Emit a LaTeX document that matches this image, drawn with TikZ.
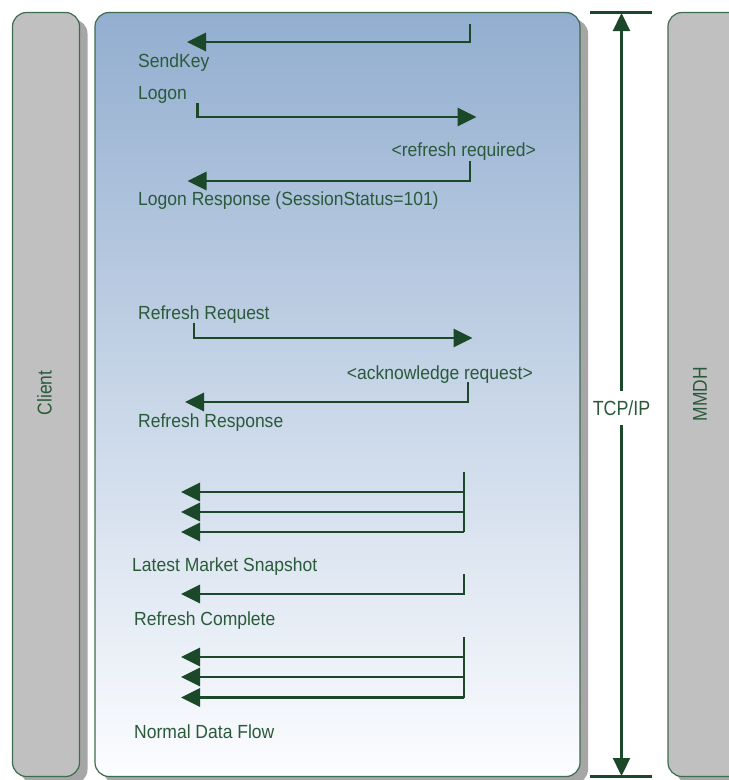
\documentclass[tikz,border=0pt]{standalone}
\usepackage{fontspec}
\setmainfont{Liberation Sans}[FakeStretch=0.922]
\newfontfamily\sidefont{Liberation Sans}[FakeStretch=0.87]
\usetikzlibrary{arrows.meta,shadows}
\definecolor{txtgreen}{RGB}{42,90,58}
\definecolor{arrgreen}{RGB}{26,72,40}
\definecolor{edgegreen}{RGB}{62,108,78}
\definecolor{boxgray}{RGB}{192,192,192}
\definecolor{shadowgray}{RGB}{166,166,166}
\definecolor{topblue}{RGB}{147,174,208}
\definecolor{botwhite}{RGB}{252,253,255}
\begin{document}
\begin{tikzpicture}[x=1pt,y=-1pt,
  lbl/.style={font=\fontsize{19}{22}\selectfont, text=txtgreen, inner sep=0pt},
  side/.style={font=\sidefont\fontsize{20}{22}\selectfont, text=txtgreen, inner sep=0pt},
  msg/.style={draw=arrgreen, line width=2.9pt, -{Triangle[length=19pt,width=18pt]}},
  bar/.style={draw=arrgreen, line width=2.9pt},
  tcparrow/.style={draw=arrgreen, line width=2.3pt, -{Triangle[length=18pt,width=17pt]}},
  capline/.style={draw=arrgreen, line width=2.3pt},
  panel/.style={rounded corners=14pt, draw=edgegreen, line width=1.2pt, inner sep=0pt,
    drop shadow={shadow xshift=8pt, shadow yshift=-7pt, fill=shadowgray, opacity=1}},
]
\useasboundingbox (0,0) rectangle (729,780);
\clip (0,0) rectangle (729,780);
\fill[white] (0,0) rectangle (729,780);

% panels
\node[panel, fill=boxgray, minimum width=67pt, minimum height=764pt] (clientbox) at (46,394.5) {};
\node[panel, top color=topblue, bottom color=botwhite, minimum width=485pt, minimum height=764pt] (mainbox) at (337.5,394.5) {};
\node[panel, fill=boxgray, minimum width=82pt, minimum height=764pt] (mmdhbox) at (709,394.5) {};
\node[side, rotate=90] (client) at (44.5,393) {Client};
\node[side, rotate=90] (mmdh) at (700,394) {MMDH};

% TCP/IP
\coordinate (capTL) at (589.5,12.5);
\coordinate (capTR) at (652,12.5);
\coordinate (capBL) at (589.5,776.5);
\coordinate (capBR) at (652,776.5);
\coordinate (tcptop) at (621.5,13);
\coordinate (tcpbot) at (621.5,776);
\draw[capline] (capTL) -- (capTR);
\draw[capline] (capBL) -- (capBR);
\node[side, font=\sidefont\fontsize{20.5}{22}\selectfont, fill=white, minimum height=34pt] (tcp) at (621.5,408) {TCP/IP};
\draw[tcparrow] (tcp.north) -- (tcptop);
\draw[tcparrow] (tcp.south) -- (tcpbot);

% labels
\node[lbl, anchor=base west] (sendkey) at (138,67) {SendKey};
\node[lbl, anchor=base west] (logon) at (138,99) {Logon};
\node[lbl, anchor=base east] (refreq) at (536,156.5) {<refresh required>};
\node[lbl, anchor=base west] (logonresp) at (138,205) {Logon Response (SessionStatus=101)};
\node[lbl, anchor=base west] (rrequest) at (138,319) {Refresh Request};
\node[lbl, anchor=base east] (ack) at (533,379) {<acknowledge request>};
\node[lbl, anchor=base west] (rresponse) at (138,427) {Refresh Response};
\node[lbl, anchor=base west] (snapshot) at (132,571) {Latest Market Snapshot};
\node[lbl, anchor=base west] (rcomplete) at (134,625.5) {Refresh Complete};
\node[lbl, anchor=base west] (normal) at (134,738) {Normal Data Flow};

% message 1: SendKey
\coordinate (m1s) at (470,24);
\coordinate (m1c) at (470,42);
\coordinate (m1e) at (187,42);
\draw[msg] (m1s) -- (m1c) -- (m1e);
% message 2: Logon
\coordinate (m2s) at (197.5,103);
\coordinate (m2c) at (197.5,117);
\coordinate (m2e) at (476.5,117);
\draw[msg] (m2s) -- (m2c) -- (m2e);
% message 3: Logon Response
\coordinate (m3s) at (470,161);
\coordinate (m3c) at (470,181);
\coordinate (m3e) at (187.5,181);
\draw[msg] (m3s) -- (m3c) -- (m3e);
% message 4: Refresh Request
\coordinate (m4s) at (194,323);
\coordinate (m4c) at (194,338);
\coordinate (m4e) at (472.5,338);
\draw[msg] (m4s) -- (m4c) -- (m4e);
% message 5: Refresh Response
\coordinate (m5s) at (468,382);
\coordinate (m5c) at (468,402);
\coordinate (m5e) at (185,402);
\draw[msg] (m5s) -- (m5c) -- (m5e);
% message 6: snapshot (three)
\coordinate (m6s) at (464,472);
\coordinate (m6a) at (464,492);
\coordinate (m6b) at (464,512);
\coordinate (m6c) at (464,532);
\coordinate (m6ae) at (181,492);
\coordinate (m6be) at (181,512);
\coordinate (m6ce) at (181,532);
\draw[bar] (m6s) -- (m6c);
\draw[msg] (m6a) -- (m6ae);
\draw[msg] (m6b) -- (m6be);
\draw[msg] (m6c) -- (m6ce);
% message 7: Refresh Complete
\coordinate (m7s) at (464,574);
\coordinate (m7c) at (464,594);
\coordinate (m7e) at (181,594);
\draw[msg] (m7s) -- (m7c) -- (m7e);
% message 8: normal data flow (three)
\coordinate (m8s) at (464,637);
\coordinate (m8a) at (464,657);
\coordinate (m8b) at (464,677);
\coordinate (m8c) at (464,697.5);
\coordinate (m8ae) at (181,657);
\coordinate (m8be) at (181,677);
\coordinate (m8ce) at (181,697.5);
\draw[bar] (m8s) -- (m8c);
\draw[msg] (m8a) -- (m8ae);
\draw[msg] (m8b) -- (m8be);
\draw[msg] (m8c) -- (m8ce);
\end{tikzpicture}
\end{document}
